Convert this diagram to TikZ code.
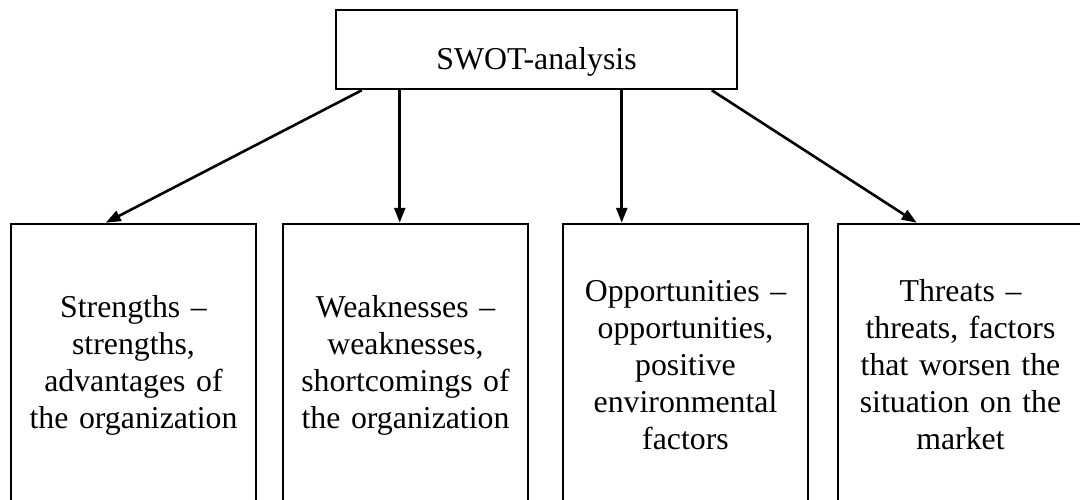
\documentclass[tikz,border=0pt]{standalone}
\usepackage{fontspec}
\setmainfont{Liberation Serif}
\usetikzlibrary{arrows.meta,calc}
\tikzset{
  box/.style={draw, line width=2.5pt, inner sep=0pt, align=center,
    font=\fontsize{31.8}{37}\selectfont},
  topbox/.style={box, minimum width=401pt, minimum height=79pt, text height=40pt, text depth=0pt},
  lowbox/.style={box, minimum width=245pt, minimum height=282pt, text width=235pt},
  arr/.style={line width=2.6pt, -{Triangle[length=15pt,width=11pt]}}
}
\begin{document}
\begin{tikzpicture}[x=1pt,y=-1pt]
\useasboundingbox (0,0) rectangle (1080,499);
\clip (0,0) rectangle (1080,499);
\node[topbox] (top) at (536.5,49.5) {SWOT-analysis};
\node[lowbox] (s) at (133.5,365) {Strengths --\\strengths,\\advantages of\\the organization};
\node[lowbox] (w) at (405.5,365) {Weaknesses --\\weaknesses,\\shortcomings of\\the organization};
\node[lowbox] (o) at (685.5,365) {Opportunities --\\opportunities,\\positive\\environmental\\factors};
\node[lowbox] (t) at (960.5,365) {Threats --\\threats, factors\\that worsen the\\situation on the\\market};
\draw[arr] ($(top.south west)+(27,0)$) -- ($(s.north west)+(96,0)$);
\draw[arr] ($(top.south west)+(65,0)$) -- ($(w.north west)+(118,0)$);
\draw[arr] ($(top.south west)+(287,0)$) -- ($(o.north west)+(60,0)$);
\draw[arr] ($(top.south west)+(377,0)$) -- ($(t.north west)+(80,0)$);
\end{tikzpicture}
\end{document}
